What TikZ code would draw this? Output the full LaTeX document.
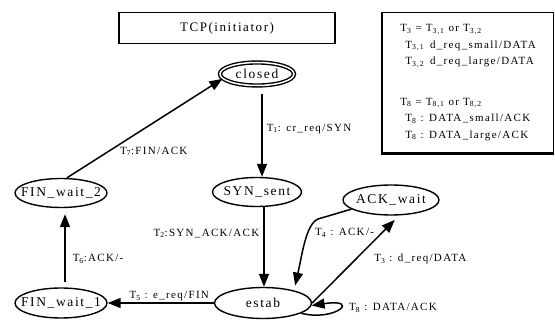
\documentclass[tikz,border=0pt]{standalone}
\usepackage{fontspec}
\setmainfont{Liberation Serif}
\newfontfamily\statefont[LetterSpace=12]{Liberation Serif}
\newfontfamily\lblfont[LetterSpace=12]{Liberation Serif}
\usetikzlibrary{shapes.geometric,arrows.meta}
\newcommand{\tsub}[1]{\textsubscript{#1}}

\tikzset{
  state/.style={ellipse, draw, line width=1.4pt, inner xsep=-8pt, inner ysep=0pt,
    minimum height=29pt, font=\statefont\fontsize{13.5}{16}\selectfont},
  trans/.style={line width=1.5pt, -{Triangle[length=13pt,width=10pt]}},
  lbl/.style={font=\lblfont\fontsize{11}{13}\selectfont, inner sep=1pt},
}

\begin{document}
\begin{tikzpicture}[x=1pt, y=-1pt]
                \useasboundingbox (0,0) rectangle (555,320);

                % 1. Title and legend
                \node[draw, line width=1.4pt, minimum width=216pt, minimum height=31pt,
                    font=\statefont\fontsize{13}{15}\selectfont] (title) at (227,28) {TCP(initiator)};
                \node[draw, line width=1.2pt, anchor=north west, minimum width=171pt, minimum height=140pt,
                    align=left, inner xsep=12pt, font=\lblfont\fontsize{11}{16.5}\selectfont] (legend) at (382,12)
                    {T\tsub{3} = T\tsub{3,1} or T\tsub{3,2}\\
                     \hspace*{5pt}T\tsub{3,1}\hspace{6pt}d\_req\_small/DATA\\
                     \hspace*{5pt}T\tsub{3,2}\hspace{6pt}d\_req\_large/DATA\\[24pt]
                     T\tsub{8} = T\tsub{8,1} or T\tsub{8,2}\\
                     \hspace*{5pt}T\tsub{8} : DATA\_small/ACK\\
                     \hspace*{5pt}T\tsub{8} : DATA\_large/ACK};
                \draw[line width=2.8pt] (legend.north west) -- (legend.south west) -- (legend.south east);

                % 2. States
                \node[state, double, double distance=1.5pt, minimum width=74pt, minimum height=23pt] (closed) at (257,74) {closed};
                \node[state, minimum width=89pt] (synsent) at (257,192) {SYN\_sent};
                \node[state, minimum width=97pt, minimum height=31pt] (estab) at (263,303) {estab};
                \node[state, minimum width=96pt, minimum height=30pt] (ackwait) at (391,200) {ACK\_wait};
                \node[state, minimum width=92pt] (fin2) at (61,193) {FIN\_wait\_2};
                \node[state, minimum width=92pt, minimum height=30pt] (fin1) at (61,303) {FIN\_wait\_1};

                % 3. Transitions
                \draw[trans, shorten <=8pt] ([xshift=5pt]closed.south) -- ([xshift=5pt]synsent.north)
                    node[lbl, pos=0.47, anchor=west, xshift=3pt] {T\tsub{1}: cr\_req/SYN};
                \draw[trans] ([xshift=7pt]synsent.south) -- ([xshift=1pt]estab.north)
                    node[lbl, pos=0.33, anchor=east, xshift=-3pt] {T\tsub{2}:SYN\_ACK/ACK};
                \draw[trans] (estab.west) -- (fin1.east)
                    node[lbl, pos=0.42, above] {T\tsub{5} : e\_req/FIN};
                \draw[trans, shorten <=5pt, shorten >=6pt] ([xshift=4pt]fin1.north) -- ([xshift=4pt]fin2.south)
                    node[lbl, pos=0.36, anchor=west, xshift=6pt] {T\tsub{6}:ACK/-};
                \draw[trans] ([xshift=6pt]fin2.north) -- (closed.188)
                    node[lbl, pos=0.33, anchor=north west] {T\tsub{7}:FIN/ACK};
                \draw[trans, shorten >=6pt] (estab.east) -- ([xshift=8pt]ackwait.south)
                    node[lbl, pos=0.5, anchor=west, xshift=17pt] {T\tsub{3} : d\_req/DATA};
                \draw[trans, shorten >=5pt] (ackwait.193) -- (318,219) .. controls (306,224) and (302,255) .. (estab.22);
                \node[lbl, anchor=west] (ackback) at (314,233) {T\tsub{4} : ACK/-};
                \draw[trans] (estab.-15) .. controls (335,322) and (362,298) .. (estab.-3);
                \node[lbl, anchor=west] (dataloop) at (348,308) {T\tsub{8} : DATA/ACK};
            \end{tikzpicture}
\end{document}
